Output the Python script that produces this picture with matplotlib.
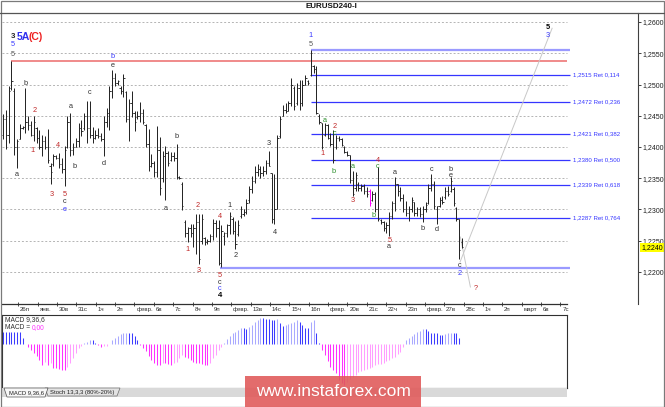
import numpy as np
import matplotlib
matplotlib.use("Agg")
import matplotlib.pyplot as plt
from matplotlib.patches import Rectangle, Polygon
from matplotlib.lines import Line2D

plt.rcParams['font.family'] = ['Liberation Sans', 'DejaVu Sans']

# ---------------- data ----------------
opens = [1.2420, 1.2445, 1.2420, 1.2495, 1.2490, 1.2400, 1.2412, 1.2430, 1.2432, 1.2440,
         1.2435, 1.2420, 1.2430, 1.2415, 1.2400, 1.2410, 1.2400, 1.2370, 1.2372, 1.2385,
         1.2383, 1.2372, 1.2365, 1.2400, 1.2440, 1.2395, 1.2400, 1.2410, 1.2430, 1.2430,
         1.2450, 1.2430, 1.2420, 1.2415, 1.2420, 1.2418, 1.2412, 1.2440, 1.2455, 1.2490,
         1.2510, 1.2502, 1.2495, 1.2490, 1.2488, 1.2445, 1.2470, 1.2455, 1.2448, 1.2450,
         1.2455, 1.2435, 1.2405, 1.2370, 1.2375, 1.2360, 1.2395, 1.2350, 1.2385, 1.2390,
         1.2380, 1.2385, 1.2382, 1.2352, 1.2340, 1.2280, 1.2262, 1.2270, 1.2262, 1.2270,
         1.2280, 1.2250, 1.2255, 1.2248, 1.2250, 1.2258, 1.2278, 1.2270, 1.2215, 1.2258,
         1.2262, 1.2275, 1.2285, 1.2265, 1.2260, 1.2290, 1.2293, 1.2296, 1.2315, 1.2332,
         1.2345, 1.2360, 1.2365, 1.2358, 1.2362, 1.2375, 1.2358, 1.2285, 1.2300, 1.2418,
         1.2450, 1.2460, 1.2458, 1.2470, 1.2495, 1.2470, 1.2495, 1.2470, 1.2500, 1.2505,
         1.2515, 1.2530, 1.2525, 1.2450, 1.2438, 1.2420, 1.2435, 1.2415, 1.2405, 1.2400,
         1.2415, 1.2412, 1.2400, 1.2392, 1.2387, 1.2348, 1.2335, 1.2340, 1.2335, 1.2338,
         1.2330, 1.2330, 1.2315, 1.2325, 1.2300, 1.2284, 1.2280, 1.2270, 1.2275, 1.2290,
         1.2310, 1.2340, 1.2330, 1.2318, 1.2300, 1.2295, 1.2300, 1.2312, 1.2295, 1.2300,
         1.2292, 1.2300, 1.2310, 1.2335, 1.2340, 1.2300, 1.2305, 1.2315, 1.2320, 1.2330,
         1.2330, 1.2332, 1.2303, 1.2285, 1.2248]
highs = [1.2452, 1.2460, 1.2497, 1.2538, 1.2494, 1.2412, 1.2436, 1.2434, 1.2494, 1.2449,
         1.2441, 1.2450, 1.2432, 1.2428, 1.2420, 1.2417, 1.2429, 1.2374, 1.2389, 1.2388,
         1.2390, 1.2382, 1.2401, 1.2449, 1.2454, 1.2406, 1.2414, 1.2438, 1.2443, 1.2454,
         1.2473, 1.2474, 1.2432, 1.2428, 1.2430, 1.2422, 1.2449, 1.2462, 1.2497, 1.2523,
         1.2518, 1.2508, 1.2498, 1.2517, 1.2490, 1.2477, 1.2490, 1.2458, 1.2458, 1.2472,
         1.2461, 1.2437, 1.2429, 1.2389, 1.2378, 1.2434, 1.2416, 1.2394, 1.2402, 1.2394,
         1.2392, 1.2392, 1.2405, 1.2354, 1.2344, 1.2283, 1.2272, 1.2277, 1.2277, 1.2293,
         1.2293, 1.2293, 1.2256, 1.2253, 1.2261, 1.2285, 1.2283, 1.2283, 1.2275, 1.2264,
         1.2277, 1.2296, 1.2288, 1.2281, 1.2284, 1.2305, 1.2300, 1.2316, 1.2337, 1.2353,
         1.2369, 1.2372, 1.2369, 1.2369, 1.2380, 1.2393, 1.2359, 1.2356, 1.2420, 1.2449,
         1.2468, 1.2470, 1.2473, 1.2510, 1.2497, 1.2502, 1.2507, 1.2507, 1.2515, 1.2507,
         1.2555, 1.2531, 1.2529, 1.2452, 1.2438, 1.2438, 1.2436, 1.2422, 1.2428, 1.2420,
         1.2417, 1.2414, 1.2401, 1.2393, 1.2388, 1.2362, 1.2360, 1.2344, 1.2341, 1.2341,
         1.2336, 1.2333, 1.2330, 1.2328, 1.2368, 1.2285, 1.2282, 1.2280, 1.2296, 1.2314,
         1.2352, 1.2341, 1.2336, 1.2325, 1.2314, 1.2306, 1.2320, 1.2312, 1.2304, 1.2304,
         1.2306, 1.2312, 1.2341, 1.2357, 1.2346, 1.2306, 1.2320, 1.2322, 1.2336, 1.2338,
         1.2352, 1.2336, 1.2304, 1.2285, 1.2255]
lows = [1.2412, 1.2396, 1.2406, 1.2491, 1.2388, 1.2366, 1.2412, 1.2429, 1.2422, 1.2428,
        1.2417, 1.2409, 1.2406, 1.2396, 1.2385, 1.2396, 1.2374, 1.2340, 1.2369, 1.2381,
        1.2366, 1.2358, 1.2337, 1.2399, 1.2385, 1.2388, 1.2400, 1.2400, 1.2417, 1.2428,
        1.2406, 1.2414, 1.2406, 1.2412, 1.2414, 1.2409, 1.2385, 1.2432, 1.2428, 1.2478,
        1.2497, 1.2499, 1.2485, 1.2480, 1.2440, 1.2410, 1.2448, 1.2426, 1.2445, 1.2440,
        1.2437, 1.2400, 1.2362, 1.2368, 1.2352, 1.2352, 1.2323, 1.2344, 1.2315, 1.2370,
        1.2378, 1.2378, 1.2349, 1.2349, 1.2299, 1.2256, 1.2248, 1.2256, 1.2240, 1.2229,
        1.2213, 1.2245, 1.2243, 1.2245, 1.2248, 1.2251, 1.2256, 1.2211, 1.2208, 1.2243,
        1.2256, 1.2261, 1.2261, 1.2236, 1.2257, 1.2287, 1.2289, 1.2292, 1.2311, 1.2327,
        1.2343, 1.2353, 1.2350, 1.2353, 1.2356, 1.2369, 1.2279, 1.2276, 1.2300, 1.2415,
        1.2449, 1.2454, 1.2457, 1.2465, 1.2460, 1.2468, 1.2460, 1.2465, 1.2499, 1.2499,
        1.2513, 1.2518, 1.2452, 1.2436, 1.2396, 1.2417, 1.2412, 1.2401, 1.2374, 1.2396,
        1.2409, 1.2401, 1.2390, 1.2385, 1.2343, 1.2322, 1.2330, 1.2330, 1.2330, 1.2325,
        1.2320, 1.2306, 1.2314, 1.2296, 1.2282, 1.2277, 1.2266, 1.2263, 1.2258, 1.2285,
        1.2298, 1.2322, 1.2314, 1.2296, 1.2290, 1.2282, 1.2296, 1.2290, 1.2290, 1.2288,
        1.2280, 1.2296, 1.2309, 1.2330, 1.2301, 1.2277, 1.2304, 1.2309, 1.2317, 1.2322,
        1.2328, 1.2306, 1.2282, 1.2221, 1.2239]
closes = [1.2445, 1.2420, 1.2490, 1.2505, 1.2400, 1.2410, 1.2430, 1.2432, 1.2440, 1.2435,
          1.2420, 1.2440, 1.2415, 1.2400, 1.2410, 1.2400, 1.2380, 1.2360, 1.2385, 1.2383,
          1.2372, 1.2365, 1.2395, 1.2440, 1.2395, 1.2400, 1.2410, 1.2430, 1.2425, 1.2450,
          1.2430, 1.2420, 1.2415, 1.2420, 1.2418, 1.2412, 1.2440, 1.2455, 1.2490, 1.2510,
          1.2502, 1.2505, 1.2490, 1.2510, 1.2445, 1.2470, 1.2455, 1.2440, 1.2450, 1.2455,
          1.2440, 1.2405, 1.2370, 1.2375, 1.2360, 1.2395, 1.2335, 1.2385, 1.2390, 1.2375,
          1.2385, 1.2382, 1.2352, 1.2350, 1.2305, 1.2262, 1.2270, 1.2262, 1.2270, 1.2280,
          1.2220, 1.2285, 1.2248, 1.2250, 1.2258, 1.2278, 1.2270, 1.2215, 1.2265, 1.2262,
          1.2275, 1.2290, 1.2265, 1.2245, 1.2275, 1.2300, 1.2296, 1.2310, 1.2332, 1.2345,
          1.2360, 1.2365, 1.2358, 1.2362, 1.2375, 1.2370, 1.2285, 1.2300, 1.2415, 1.2445,
          1.2460, 1.2458, 1.2470, 1.2500, 1.2465, 1.2495, 1.2470, 1.2500, 1.2510, 1.2502,
          1.2550, 1.2525, 1.2455, 1.2440, 1.2400, 1.2435, 1.2415, 1.2405, 1.2380, 1.2415,
          1.2412, 1.2403, 1.2392, 1.2387, 1.2348, 1.2325, 1.2355, 1.2335, 1.2338, 1.2330,
          1.2325, 1.2310, 1.2325, 1.2300, 1.2285, 1.2280, 1.2270, 1.2275, 1.2290, 1.2310,
          1.2340, 1.2330, 1.2318, 1.2300, 1.2295, 1.2300, 1.2315, 1.2295, 1.2300, 1.2292,
          1.2300, 1.2308, 1.2335, 1.2340, 1.2305, 1.2305, 1.2315, 1.2312, 1.2330, 1.2325,
          1.2345, 1.2310, 1.2285, 1.2235, 1.2240]
highlight_bar = 132          # bar drawn in magenta (1-based)

# MACD 9,36,6 histogram (units of 1e-5)
macd = [11.7, 11.7, 11.7, 11.7, 11.7, 11.7, 11.7, 5.7, 0.5, -2.7,
        -6, -9, -12, -16, -21, -17.7, -21, -19, -24, -24,
        -25, -25.5, -26, -22.7, -19.3, -14.3, -9.3, -4.3, -1.5, 0.8,
        2.3, 4, 4, 1, -1, -2.7, -2.3, -1.7, 0.5, 4,
        5.7, 8, 10, 10.7, 11.3, 11.3, 11.3, 8, 4, -1,
        -4.3, -7, -12, -16, -19.3, -21, -21, -19.3, -19.3, -20,
        -21, -19.3, -17.7, -14.3, -11, -12.5, -14.3, -16, -17.7, -19.3,
        -19.3, -20, -21, -21, -19.3, -14.3, -11, -6, -2.7, 1,
        4.7, 8, 11.3, 12.5, 14, 15.7, 15.7, 14.7, 17.3, 19.5,
        22, 24, 25.7, 25.7, 25, 25, 24.5, 24, 25, 20.7,
        18, 19, 20, 21.5, 22.3, 24, 22.3, 19, 16.5, 15.7,
        22.3, 24, 10.7, 0.7, -6, -11, -17, -22.7, -26, -29.3,
        -36, -39, -41, -37.7, -35, -33, -31, -27.7, -26.7, -26,
        -25, -23.5, -22.7, -21, -20.3, -19.5, -18.5, -17, -15.5, -14.3,
        -12.7, -10.3, -7.7, -2.7, 4, 6, 8, 10, 12, 13.5,
        14.7, 14.7, 13, 11.5, 10.7, 10.7, 9, 9, 10, 11,
        11.3, 11.3, 10.7, 5.7, 0.5]

price_ticks = [1.2200, 1.2250, 1.2300, 1.2350, 1.2400, 1.2450, 1.2500, 1.2550, 1.2600]
last_price = 1.2240
date_labels = ["26п", "янв.", "30в", "31с", "1ч", "2п", "февр.", "6в", "7с", "8ч", "9п",
               "февр.", "13в", "14с", "15ч", "16п", "февр.", "20в", "21с", "22ч", "23п",
               "февр.", "27в", "28с", "1ч", "2п", "март", "6в", "7с"]

fib_levels = [1.2515, 1.2472, 1.2421, 1.2380, 1.2339, 1.2287]
fib_ratios = [0.114, 0.236, 0.382, 0.500, 0.618, 0.764]
fib_start_bar = 111
peak_level = 1.2555
red_level = 1.2537
red_start_bar = 4
bottom_level = 1.2206
bottom_start_bar = 78.5

trend_bars = [164.3, 197.2]
trend_prices = [1.2216, 1.2590]
proj_bars = [164.4, 168.0]
proj_prices = [1.2256, 1.2176]

# wave labels: (bar, price, text, colour key)
wave_bar = [4.3, 4.5, 9, 12.4, 25.2, 32.1, 40.2, 40.2, 111, 111, 195.8, 195.8,
            116, 119.5, 119.5, 11.5, 20.75, 26.6, 37.1, 5.9, 18.4, 22.9, 22.9, 23.1,
            63, 59, 70.5, 67, 71, 78.5, 78.5, 78.5, 78.5, 82, 84, 96, 98,
            115, 119, 126, 126, 135, 135, 133.5, 141, 139, 139, 154, 151, 156,
            161, 161, 164, 164, 170]
wave_price = [1.2564, 1.2548, 1.2502, 1.2459, 1.2464, 1.2487, 1.2544, 1.2531, 1.2578, 1.2564,
              1.2591, 1.2578, 1.2443, 1.2433, 1.2421, 1.2394, 1.2403, 1.2369, 1.2373, 1.2356,
              1.2324, 1.2324, 1.2313, 1.2300, 1.2416, 1.2302, 1.2306, 1.2236, 1.2202, 1.2288,
              1.2194, 1.2184, 1.2174, 1.2307, 1.2226, 1.2405, 1.2263, 1.2389, 1.2361, 1.2369,
              1.2314, 1.2379, 1.2368, 1.2291, 1.2359, 1.2250, 1.2240, 1.2364, 1.2270, 1.2268,
              1.2364, 1.2355, 1.2211, 1.2197, 1.2174]
wave_text = ["5", "5", "b", "2", "a", "c", "b", "e", "1", "5", "5", "3",
             "a", "2", "c", "1", "4", "b", "d", "a", "3", "5", "c", "e",
             "b", "a", "2", "1", "3", "4", "5", "c", "c", "1", "2", "3", "4",
             "1", "b", "a", "3", "4", "c", "b", "a", "5", "a", "c", "b", "d",
             "b", "e", "c", "2", "?"]
wave_col = ["B", "g", "k", "r", "k", "k", "B", "k", "B", "g", "K", "B",
            "G", "r", "G", "r", "r", "k", "k", "k", "r", "r", "k", "B",
            "k", "k", "r", "r", "r", "r", "r", "k", "B", "k", "k", "k", "k",
            "r", "G", "G", "r", "r", "G", "G", "k", "r", "k", "k", "k", "k",
            "k", "k", "k", "B", "r"]
bottom_mark = (78.5, 1.2162, "4")

# ---------------- layout helpers ----------------
W, H = 665, 407
BAR_PX, X0_PX = 2.7988, 3.0          # pixel spacing of bars / first bar position
PX_PER_PRICE, Y_1260 = 6250.0, 22.0  # vertical price scale


def fx(px):
    return px / W


def fy(py):
    return 1 - py / H


def px2k(px):
    return (px - X0_PX) / BAR_PX


def py2p(py):
    return 1.26 - (py - Y_1260) / PX_PER_PRICE


fig = plt.figure(figsize=(W / 100, H / 100), dpi=100)
fig.patch.set_facecolor('white')

colors = {"k": "#333333", "K": "#000000", "g": "#555555", "r": "#c02828",
          "B": "#3a3aff", "G": "#2b8f2b"}
dark = "#262626"

# ---------------- main price panel ----------------
ax = fig.add_axes([fx(2), fy(304), 636 / W, 291 / H])
ax.set_facecolor('none')
ax.set_xlim(px2k(2), px2k(638))
ax.set_ylim(py2p(304), py2p(13))

k = np.arange(len(highs))
ax.hlines(price_ticks, px2k(2), px2k(567), colors='#b4b4b4',
          linestyles=(0, (2, 2)), lw=0.7, zorder=1)

ax.hlines(fib_levels, fib_start_bar - 1, px2k(570), colors='#3535ff', lw=0.9, zorder=2)
ax.hlines(peak_level, fib_start_bar - 1, px2k(570), colors='#9a9aff', lw=1.6, zorder=2)
ax.hlines(bottom_level, bottom_start_bar - 1, px2k(570), colors='#9a9aff', lw=1.6, zorder=2)
ax.hlines(red_level, red_start_bar - 1, px2k(567), colors='#f08a8a', lw=1.4, zorder=2)
for lvl, r in zip(fib_levels, fib_ratios):
    ax.text(px2k(573), lvl, f"{lvl:.4f} Ret {r:.3f}".replace('.', ','), color='#3535ff',
            fontsize=4.4, ha='left', va='center', clip_on=False)

ax.plot(np.array(trend_bars) - 1, trend_prices, color='#c8c8c8', lw=0.7, zorder=2)
ax.plot(np.array(proj_bars) - 1, proj_prices, color='#c8c8c8', lw=0.7, zorder=2)

bar_cols = [('#ff00ff' if i + 1 == highlight_bar else dark) for i in k]
ax.vlines(k, lows, highs, colors=bar_cols, lw=0.72, zorder=3)
ax.hlines(opens, k - 0.45, k, colors=bar_cols, lw=0.65, zorder=3)
ax.hlines(closes, k, k + 0.45, colors=bar_cols, lw=0.65, zorder=3)

for b, p, t, c in zip(wave_bar, wave_price, wave_text, wave_col):
    ax.text(b - 1, p, t, color=colors[c], fontsize=5.3, ha='center', va='center',
            fontweight='bold' if c == 'K' else 'normal', zorder=4)
ax.text(bottom_mark[0] - 1, bottom_mark[1], bottom_mark[2], color='#000000', fontsize=5.6,
        fontweight='bold', ha='center', va='center')
# "3 5A(C)" heading
ax.text(px2k(12.7), py2p(36.7), "3", color='#222222', fontsize=5.6, fontweight='bold',
        ha='center', va='center')
ax.text(px2k(16.3), py2p(36.7), "5A", color='#3030ee', fontsize=7.6, fontweight='bold',
        ha='left', va='center')
ax.text(px2k(28.8), py2p(36.7), "(C)", color='#ee2020', fontsize=7.6, fontweight='bold',
        ha='left', va='center')

ax.yaxis.tick_right()
ax.set_yticks(price_ticks)
ax.set_yticklabels([f"{v:.4f}".replace('.', ',') for v in price_ticks])
ax.tick_params(axis='y', direction='out', length=2.5, width=0.6, pad=1,
               labelsize=5, colors='#202020')
ax.set_xticks([])
for s in ['left', 'top', 'bottom']:
    ax.spines[s].set_visible(False)
ax.spines['right'].set_color('#404040')
ax.spines['right'].set_linewidth(0.8)

ax.annotate(f"{last_price:.4f}".replace('.', ','), xy=(1, last_price),
            xycoords=('axes fraction', 'data'), xytext=(2.2, -0.6), textcoords='offset points',
            fontsize=5, ha='left', va='center', color='#000000',
            bbox=dict(boxstyle='square,pad=0.12', fc='#ffff00', ec='none'))

# ---------------- date axis ----------------
axd = fig.add_axes([fx(2), fy(315), 565 / W, 11 / H])
axd.set_xlim(px2k(2), px2k(567))
axd.set_ylim(0, 1)
tick_pos = [px2k(18.3 + 19.36 * d) for d in range(len(date_labels))]
axd.set_xticks(tick_pos)
axd.set_xticklabels([])
axd.xaxis.tick_top()
axd.tick_params(axis='x', direction='inout', length=3, width=0.6, colors='#303030')
axd.set_yticks([])
for s in ['left', 'right', 'bottom']:
    axd.spines[s].set_visible(False)
axd.spines['top'].set_color('#303030')
axd.spines['top'].set_linewidth(0.9)
for pos, lab in zip(tick_pos, date_labels):
    axd.text(pos + 1.8 / BAR_PX, 0.5, lab, fontsize=4.4, ha='left', va='center',
             color='#303030', clip_on=False)

# ---------------- MACD panel ----------------
axm = fig.add_axes([fx(2), fy(387.5), 565 / W, 72.5 / H])
axm.set_xlim(px2k(2), px2k(567))
axm.set_ylim(-43.5, 29)
mcols = []
for j, v in enumerate(macd):
    prev = macd[j - 1] if j > 0 else v
    rising = v > prev
    if v >= 0:
        mcols.append('#a9a9ff' if rising else '#3c3cff')
    else:
        mcols.append('#ff9eff' if rising else '#ff30ff')
axm.vlines(np.arange(len(macd)), 0, macd, colors=mcols, lw=0.75)
axm.set_xticks([])
axm.set_yticks([])
for s in axm.spines.values():
    s.set_color('#303030')
    s.set_linewidth(0.8)
fig.text(fx(5), fy(320), "MACD 9,36,6", fontsize=4.8, color='#303030', va='center')
fig.text(fx(5), fy(327.5), "MACD =", fontsize=4.8, color='#303030', va='center')
fig.text(fx(31.5), fy(327.5), "0,00", fontsize=4.8, color='#ff30ff', va='center')

# ---------------- tabs strip ----------------
fig.add_artist(Rectangle((fx(2), fy(397)), 565 / W, 9 / H, transform=fig.transFigure,
                         fc='#d9d9d9', ec='none'))
fig.add_artist(Polygon([(fx(45), fy(388)), (fx(120), fy(388)), (fx(117), fy(396)),
                        (fx(48), fy(396))], closed=True, transform=fig.transFigure,
                       fc='#e3e3e3', ec='#707070', lw=0.5))
fig.add_artist(Polygon([(fx(4), fy(388)), (fx(48), fy(388)), (fx(45), fy(397)),
                        (fx(7), fy(397))], closed=True, transform=fig.transFigure,
                       fc='#f7f7f7', ec='#505050', lw=0.5))
fig.text(fx(9), fy(392.5), "MACD 9,36,6", fontsize=4.2, color='#202020', va='center')
fig.text(fx(50), fy(392.5), "Stoch 13,3,3 (80%-20%)", fontsize=4.2, color='#202020',
         va='center')

# ---------------- title / frame ----------------
fig.text(fx(306), fy(6.2), "EURUSD240-I", fontsize=5.8, fontweight='bold', color='#111111',
         va='center', ha='left')
fig.add_artist(Line2D([0, 1], [fy(13.3), fy(13.3)], transform=fig.transFigure,
                      color='#555555', lw=0.9))
fig.add_artist(Rectangle((0.0008, 0.001), 0.998, 0.997, transform=fig.transFigure,
                         fc='none', ec='#7a7a7a', lw=0.9))

# ---------------- watermark ----------------
fig.add_artist(Rectangle((fx(245), fy(407)), 176 / W, 31 / H, transform=fig.transFigure,
                         fc='#e05858', ec='none', alpha=0.88, zorder=10))
fig.text(fx(333), fy(392), "www.instaforex.com", fontsize=12.5, color='white',
         ha='center', va='center', zorder=11)

fig.savefig("out.png", dpi=100)
